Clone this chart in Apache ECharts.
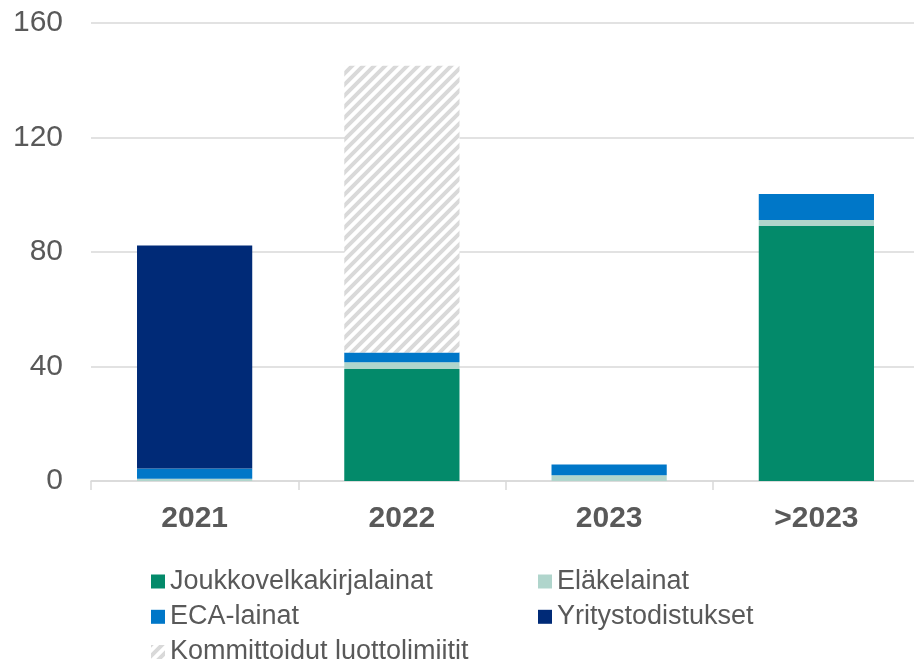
<!DOCTYPE html>
<html>
<head>
<meta charset="utf-8">
<script src="https://cdn.jsdelivr.net/npm/echarts@6/dist/echarts.min.js"></script>
<style>html,body{margin:0;padding:0;background:#fff;overflow:hidden}#c{width:920px;height:664px}</style>
</head>
<body>
<div id="c"></div>
<script>
const categories = ['2021', '2022', '2023', '>2023'];
const joukkovelkakirjalainat = [0, 39.1, 0, 89.1];
const elakelainat = [0.8, 2.4, 2.0, 2.1];
const ecaLainat = [3.6, 3.4, 3.8, 9.1];
const yritystodistukset = [77.9, 0, 0, 0];
const kommittoidut = [0, 100.2, 0, 0];
const yTicks = [0, 40, 80, 120, 160];

function hatch() {
  const s = 11;
  const c = document.createElement('canvas');
  c.width = s; c.height = s;
  const g = c.getContext('2d');
  g.fillStyle = '#ffffff';
  g.fillRect(0, 0, s, s);
  g.strokeStyle = '#d9d9d9';
  g.lineWidth = s * 0.36;
  g.beginPath();
  g.moveTo(-s, s); g.lineTo(s, -s);
  g.moveTo(0, s); g.lineTo(s, 0);
  g.moveTo(0, 2 * s); g.lineTo(2 * s, 0);
  g.stroke();
  return { image: c, repeat: 'repeat' };
}

const font = '"Liberation Sans", Arial, sans-serif';
const textColor = '#595959';
const chart = echarts.init(document.getElementById('c'), null, { renderer: 'canvas' });

function bar(name, data, color) {
  return {
    name: name, type: 'bar', stack: 'total', data: data,
    barWidth: '55.6%',
    itemStyle: { color: color },
    emphasis: { disabled: true },
    animation: false
  };
}

function leg(name, left, center) {
  return {
    data: [name], orient: 'horizontal', left: left, top: center - 13, padding: 0,
    itemWidth: 14, itemHeight: 14, icon: 'rect',
    textStyle: { color: textColor, fontFamily: font, fontSize: 27, lineHeight: 26 }
  };
}

chart.setOption({
  animation: false,
  grid: { left: 91, right: 0, top: 23, bottom: 183, containLabel: false },
  xAxis: {
    type: 'category', data: categories,
    axisLine: { show: true, lineStyle: { color: '#d9d9d9', width: 1.5 } },
    axisTick: { show: true, length: 9, lineStyle: { color: '#d9d9d9', width: 1.5 } },
    axisLabel: { color: textColor, fontFamily: font, fontSize: 30, fontWeight: 'bold', margin: 23 }
  },
  yAxis: {
    type: 'value', min: yTicks[0], max: yTicks[yTicks.length - 1], interval: 40,
    axisLine: { show: false }, axisTick: { show: false },
    splitLine: { lineStyle: { color: '#d9d9d9', width: 1.5 } },
    axisLabel: { color: textColor, fontFamily: font, fontSize: 30, margin: 28 }
  },
  legend: [
    leg('Joukkovelkakirjalainat', 151, 581),
    leg('ECA-lainat', 151, 616.3),
    leg('Kommittoidut luottolimiitit', 151, 651.5),
    leg('Eläkelainat', 538, 581),
    leg('Yritystodistukset', 538, 616.3)
  ],
  series: [
    bar('Joukkovelkakirjalainat', joukkovelkakirjalainat, '#038a6a'),
    bar('Eläkelainat', elakelainat, '#b0d5cc'),
    bar('ECA-lainat', ecaLainat, '#0077c8'),
    bar('Yritystodistukset', yritystodistukset, '#002a77'),
    bar('Kommittoidut luottolimiitit', kommittoidut, hatch())
  ]
});
</script>
</body>
</html>
